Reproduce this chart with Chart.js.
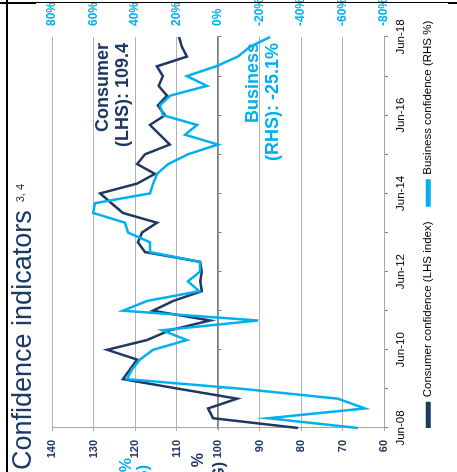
<!DOCTYPE html>
<html>
<head>
<meta charset="utf-8">
<script src="https://cdn.jsdelivr.net/npm/chart.js@4.4.1/dist/chart.umd.min.js"></script>
<style>
  html, body { margin: 0; padding: 0; background: #fff; }
  body { width: 457px; height: 472px; overflow: hidden; position: relative; }
  /* the slide panel is laid out landscape and turned a quarter turn */
  #sheet {
    position: absolute; left: 0; top: 0; width: 472px; height: 457px;
    transform-origin: 0 0; transform: translateY(472px) rotate(-90deg);
    font-family: "Liberation Sans", Arial, sans-serif; overflow: hidden;
  }
  #sheet canvas { position: absolute; left: 0; top: 0; }
  .rule { position: absolute; background: #000; }
  .title { position: absolute; left: 2px; top: 9px; font-size: 27px; line-height: 27px; color: #1b3a66; white-space: nowrap; }
  .title sup { font-size: 11px; margin-left: 8px; vertical-align: 7px; line-height: 0; }
  .note { position: absolute; right: 43px; text-align: right; font-weight: bold; font-size: 18px; line-height: 20px; white-space: nowrap; }
  .frag { position: absolute; font-weight: bold; font-size: 16px; line-height: 18px; white-space: nowrap; }
</style>
</head>
<body>
<div id="sheet">
  <canvas id="chart" width="472" height="457"></canvas>
  <div class="rule" style="left:0;top:6px;width:472px;height:2px"></div>
  <div class="rule" style="left:468px;top:0;width:2px;height:36px"></div>
  <div class="rule" style="left:469px;top:36px;width:1px;height:412px"></div>
  <div class="rule" style="left:468px;top:448px;width:2px;height:9px"></div>
  <div class="title">Confidence indicators<sup>3, 4</sup></div>
  <div class="note" style="top:92px;color:#1f3864">Consumer<br>(LHS): 109.4</div>
  <div class="note" style="top:242px;color:#00b0f0">Business<br>(RHS): -25.1%</div>
  <div class="frag" style="right:458px;top:117px;color:#00b0f0">Business, %</div>
  <div class="frag" style="right:465px;top:134px;color:#00b0f0">(RHS)</div>
  <div class="frag" style="right:453px;top:189px;color:#1f3864">Consumer, %</div>
  <div class="frag" style="right:462px;top:210px;color:#1f3864">(LHS, AVG)</div>
</div>
<script>
// quarterly observations, Jun-08 to Jun-18
const quarters = ['Jun-08', 'Sep-08', 'Dec-08', 'Mar-09', 'Jun-09', 'Sep-09', 'Dec-09', 'Mar-10',
  'Jun-10', 'Sep-10', 'Dec-10', 'Mar-11', 'Jun-11', 'Sep-11', 'Dec-11', 'Mar-12',
  'Jun-12', 'Sep-12', 'Dec-12', 'Mar-13', 'Jun-13', 'Sep-13', 'Dec-13', 'Mar-14',
  'Jun-14', 'Sep-14', 'Dec-14', 'Mar-15', 'Jun-15', 'Sep-15', 'Dec-15', 'Mar-16',
  'Jun-16', 'Sep-16', 'Dec-16', 'Mar-17', 'Jun-17', 'Sep-17', 'Dec-17', 'Mar-18', 'Jun-18'];

// consumer confidence, index (left axis)
const consumer = [80.7, 101.2, 102.4, 95.4, 109.3, 122.9, 121.2, 119.5, 126.7, 117.1,
  111.6, 101.9, 115.7, 110.8, 103.9, 104.3, 103.9, 104.3, 117.6, 119.3,
  118.3, 114.7, 122.9, 125.7, 128.4, 119.5, 115.2, 119.5, 117.6, 111.6,
  114, 116.4, 112.8, 114.5, 112.3, 114.3, 113.3, 114.7, 107.5, 108.7, 109.4];

// business confidence, net % (right axis)
const business = [-67.5, -24.1, -70.8, -57.8, -12, 43.9, 41.4, 37.6, 31.3, 15,
  27, -19.3, 45.8, 34.2, 9, 14.5, 8.7, 8.7, 32.8, 32.8,
  43.4, 44.8, 60.2, 59.3, 32.8, 31.3, 29.4, 24, 14.5, 0,
  15.9, 10.1, 26.5, 28, 23.1, 5.3, 15, 1, -9.6, -15.4, -25.1];

const navy = '#1f3864';
const sky = '#00b0f0';
const axisFont = { family: 'Liberation Sans', size: 11, weight: 'bold' };
const rhsFont = { family: 'Liberation Sans', size: 12, weight: 'bold' };
const textFont = { family: 'Liberation Sans', size: 11.5 };

// tick marks once a year (every June)
const yearTick = ctx => ctx.index % 4 === 0 ? '#7f7f7f' : 'rgba(0,0,0,0)';

// start the legend row under the plot instead of at the canvas edge
const legendInset = {
  id: 'legendInset',
  afterLayout(chart) {
    chart.legend.left = chart.chartArea.left;
  }
};

new Chart(document.getElementById('chart'), {
  type: 'line',
  data: {
    labels: quarters,
    datasets: [{
      label: 'Consumer confidence (LHS index)',
      data: consumer,
      yAxisID: 'y',
      borderColor: navy,
      backgroundColor: navy,
      borderWidth: 2.5,
      pointRadius: 0,
      tension: 0,
      order: 1
    }, {
      label: 'Business confidence (RHS %)',
      data: business,
      yAxisID: 'yR',
      borderColor: sky,
      backgroundColor: sky,
      borderWidth: 2.5,
      pointRadius: 0,
      tension: 0,
      order: 0
    }]
  },
  plugins: [legendInset],
  options: {
    responsive: false,
    animation: false,
    layout: { padding: { top: 52, left: 0, right: 0, bottom: 13 } },
    plugins: {
      tooltip: { enabled: false },
      legend: {
        position: 'bottom',
        align: 'start',
        labels: {
          boxWidth: 25,
          boxHeight: 2.5,
          padding: 0,
          color: '#000',
          font: textFont,
          sort: (a, b) => a.datasetIndex - b.datasetIndex,
          generateLabels: chart => Chart.defaults.plugins.legend.labels.generateLabels(chart)
            .map(item => Object.assign(item, { text: item.text + '     ' }))
        }
      }
    },
    scales: {
      x: {
        type: 'category',
        position: 'bottom',
        offset: false,
        afterFit: scale => { scale.height = 38.5; },
        grid: { drawOnChartArea: false, tickLength: 4, tickColor: yearTick },
        border: { color: '#a6a6a6' },
        ticks: {
          autoSkip: false, maxRotation: 0, minRotation: 0, padding: 6,
          color: '#000', font: textFont,
          callback: (v, i) => i % 8 === 0 ? quarters[i] : ''
        }
      },
      xZero: {
        type: 'category',
        axis: 'x',
        position: { yR: 0 },
        offset: false,
        grid: { drawOnChartArea: false, tickLength: 3, tickColor: yearTick },
        border: { color: '#7f7f7f', width: 1.5 },
        ticks: { display: false }
      },
      y: {
        position: 'left',
        min: 60,
        max: 140,
        afterFit: scale => { scale.width = 44; },
        ticks: { stepSize: 10, padding: 9, color: navy, font: axisFont },
        grid: { color: '#b3b3b3', tickLength: 3, tickColor: '#a6a6a6' },
        border: { color: '#a6a6a6' }
      },
      yR: {
        position: 'right',
        min: -80,
        max: 80,
        afterFit: scale => { scale.width = 37; },
        ticks: { stepSize: 20, padding: 11, color: sky, font: rhsFont, callback: v => v + '%' },
        grid: { display: false, drawTicks: false },
        border: { display: false }
      }
    }
  }
});
</script>
</body>
</html>
